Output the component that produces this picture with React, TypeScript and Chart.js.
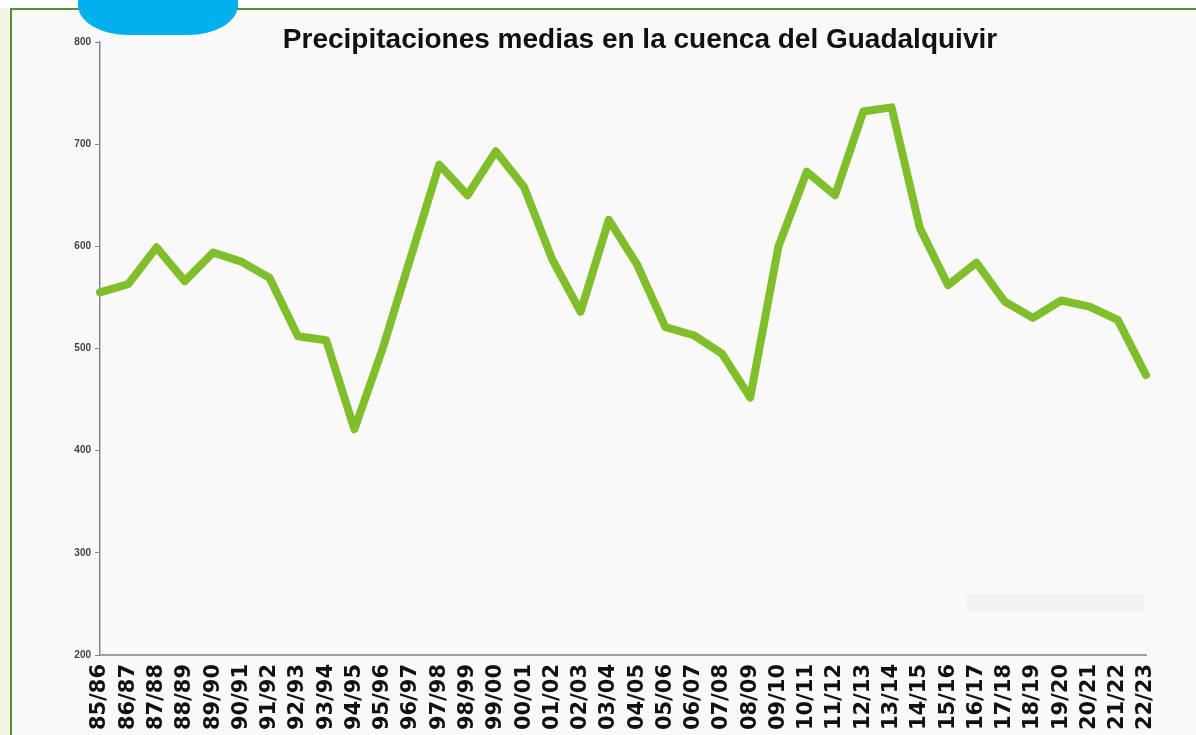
import { useEffect, useRef } from "react";
import { Chart, registerables } from "chart.js";

Chart.register(...registerables);

const categories: string[] = [
  "85/86", "86/87", "87/88", "88/89", "89/90", "90/91", "91/92", "92/93", "93/94", "94/95",
  "95/96", "96/97", "97/98", "98/99", "99/00", "00/01", "01/02", "02/03", "03/04", "04/05",
  "05/06", "06/07", "07/08", "08/09", "09/10", "10/11", "11/12", "12/13", "13/14", "14/15",
  "15/16", "16/17", "17/18", "18/19", "19/20", "20/21", "21/22", "22/23",
];

const precipitation: number[] = [
  555, 563, 599, 566, 594, 585, 569, 512, 508, 421,
  500, 590, 680, 650, 693, 658, 587, 536, 626, 582,
  521, 513, 495, 452, 600, 673, 650, 732, 736, 618,
  562, 584, 546, 530, 547, 541, 528, 474,
];

const yTickMin = 200;
const yTickMax = 800;
const yTickStep = 100;

const titleText = "Precipitaciones medias en la cuenca del Guadalquivir";

export default function App() {
  const ref = useRef<HTMLCanvasElement | null>(null);

  useEffect(() => {
    if (!ref.current) return;
    const chart = new Chart(ref.current, {
      type: "line",
      data: {
        labels: categories,
        datasets: [
          {
            data: precipitation,
            borderColor: "#80bf2b",
            borderWidth: 8,
            borderJoinStyle: "round",
            borderCapStyle: "round",
            pointRadius: 0,
            tension: 0,
            fill: false,
          },
        ],
      },
      options: {
        responsive: false,
        animation: false,
        devicePixelRatio: 1,
        layout: { padding: { left: 0, right: 50, top: 42, bottom: 0 } },
        plugins: {
          legend: { display: false },
          tooltip: { enabled: false },
          title: { display: false },
        },
        scales: {
          x: {
            offset: false,
            grid: { display: false, drawTicks: false },
            border: { display: true, color: "#a0a0a0", width: 2 },
            ticks: {
              autoSkip: false,
              minRotation: 90,
              maxRotation: 90,
              padding: 9,
              color: "#111",
              font: { family: "'DejaVu Sans', Verdana, sans-serif", size: 21, weight: "bold" },
            },
            afterFit: (scale: any) => {
              scale.height = 80;
            },
          },
          y: {
            min: yTickMin,
            max: yTickMax,
            grid: { display: true, drawOnChartArea: false, drawTicks: true, tickLength: 5, color: "#888" },
            border: { display: true, color: "#888", width: 1.5 },
            ticks: {
              stepSize: yTickStep,
              padding: 4,
              color: "#444",
              font: { family: "'Liberation Sans', Arial, sans-serif", size: 10, weight: "bold" },
            },
            afterFit: (scale: any) => {
              scale.width = 100;
            },
          },
        },
      },
    });
    return () => chart.destroy();
  }, []);

  return (
    <div
      style={{
        position: "fixed",
        left: 0,
        top: 0,
        width: 1196,
        height: 735,
        overflow: "hidden",
        background: "#ffffff",
      }}
    >
      <div style={{ position: "absolute", left: 0, top: 8, width: 10, height: 727, background: "#f1f5e2" }} />
      <div
        style={{
          position: "absolute",
          left: 10,
          top: 8,
          right: 0,
          bottom: 0,
          background: "#f9f9f9",
          borderTop: "2px solid #5a8e30",
          borderLeft: "2px solid #5a8e30",
        }}
      />
      <div style={{ position: "absolute", left: 967, top: 594, width: 177, height: 17, background: "#f2f2f2" }} />
      <canvas ref={ref} width={1196} height={735} style={{ position: "absolute", left: 0, top: 0, width: 1196, height: 735 }} />
      <div
        style={{
          position: "absolute",
          left: 0,
          top: 22,
          width: 1280,
          textAlign: "center",
          fontFamily: "'Liberation Sans', Arial, sans-serif",
          fontWeight: "bold",
          fontSize: 28,
          lineHeight: "33.6px",
          color: "#111",
          whiteSpace: "nowrap",
        }}
      >
        {titleText}
      </div>
      <div
        style={{
          position: "absolute",
          left: 78,
          top: -20,
          width: 160,
          height: 55,
          background: "#00b0ef",
          borderRadius: "0 0 50px 50px / 0 0 30px 30px",
        }}
      />
    </div>
  );
}
